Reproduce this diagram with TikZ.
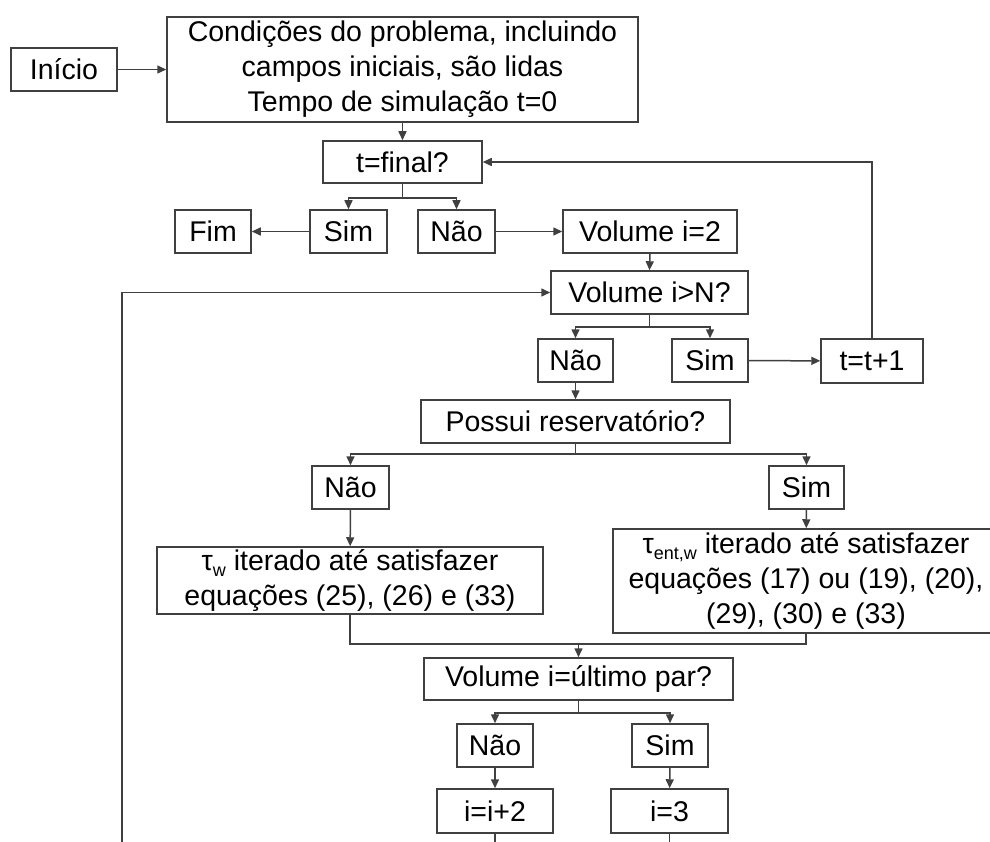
\documentclass[tikz,border=0pt]{standalone}
\usepackage{fontspec}
\setmainfont{Liberation Sans}
\usetikzlibrary{arrows.meta}
\newcommand{\subw}[1]{{\fontsize{18}{18}\selectfont\raisebox{-6pt}{#1}}}
\begin{document}
\begin{tikzpicture}[x=1pt,y=-1pt,
  bx/.style={draw=black!75, line width=1.5pt, inner sep=0pt, align=center,
    font=\fontsize{28.5}{35}\selectfont, text=black},
  conn/.style={draw=black!75, line width=1.5pt},
  arr/.style={conn, -{Triangle[length=9pt,width=8pt]}}]
\useasboundingbox (0,0) rectangle (990,842);
\clip (0,0) rectangle (990,842);
% boxes
\node[bx, minimum width=106pt, minimum height=43pt] (inicio) at (64,69.5) {Início};
\node[bx, minimum width=471pt, minimum height=105pt] (cond) at (402.5,69.5)
  {Condições do problema, incluindo\\campos iniciais, são lidas\\Tempo de simulação t=0};
\node[bx, minimum width=159pt, minimum height=42pt] (tfinal) at (402.5,162) {t=final?};
\node[bx, minimum width=77pt, minimum height=43pt] (sim1) at (348.5,231.5) {Sim};
\node[bx, minimum width=77pt, minimum height=43pt] (nao1) at (456.5,231.5) {Não};
\node[bx, minimum width=76pt, minimum height=43pt] (fim) at (213,231.5) {Fim};
\node[bx, minimum width=174pt, minimum height=43pt] (vol2) at (650,231.5) {Volume i=2};
\node[bx, minimum width=197pt, minimum height=43pt] (volN) at (649.5,292.5) {Volume i>N?};
\node[bx, minimum width=75pt, minimum height=43pt] (nao2) at (575.5,360.5) {Não};
\node[bx, minimum width=76pt, minimum height=43pt] (sim2) at (710,360.5) {Sim};
\node[bx, minimum width=102pt, minimum height=44pt] (tt1) at (872,361) {t=t+1};
\node[bx, minimum width=309pt, minimum height=43pt] (possui) at (575.5,421.5) {Possui reservatório?};
\node[bx, minimum width=77pt, minimum height=43pt] (nao3) at (350.5,487.5) {Não};
\node[bx, minimum width=75pt, minimum height=43pt] (sim3) at (806.5,487.5) {Sim};
\node[bx, minimum width=386pt, minimum height=67pt] (tauw) at (350,580.5)
  {τ\subw{w} iterado até satisfazer\\equações (25), (26) e (33)};
\node[bx, minimum width=386pt, minimum height=104pt] (tauent) at (806,581)
  {τ\subw{ent,w} iterado até satisfazer\\equações (17) ou (19), (20),\\(29), (30) e (33)};
\node[bx, minimum width=309pt, minimum height=42pt] (volult) at (578.5,679) {Volume i=último par?};
\node[bx, minimum width=76pt, minimum height=43pt] (nao4) at (495,745.5) {Não};
\node[bx, minimum width=76pt, minimum height=43pt] (sim4) at (670,745.5) {Sim};
\node[bx, minimum width=116pt, minimum height=44pt] (ii2) at (495,811) {i=i+2};
\node[bx, minimum width=117pt, minimum height=44pt] (i3) at (669.5,811) {i=3};
% branch points
\coordinate (b1) at (402.5,198);
\coordinate (b2) at (649.5,327);
\coordinate (b3) at (575.5,454);
\coordinate (m1) at (578.5,644);
\coordinate (b4) at (578.5,713);
\coordinate (e1) at (495,845);
\coordinate (e2) at (669.5,845);
\coordinate (lb) at (122,845);
% connectors
\draw[arr] (inicio) -- (cond);
\draw[arr] (cond) -- (tfinal);
\draw[conn] (tfinal) -- (b1);
\draw[arr] (b1) -| (sim1);
\draw[arr] (b1) -| (nao1);
\draw[arr] (sim1) -- (fim);
\draw[arr] (nao1) -- (vol2);
\draw[arr] (vol2.south) -- (volN.north);
\draw[conn] (volN) -- (b2);
\draw[arr] (b2) -| (nao2);
\draw[arr] (b2) -| (sim2);
\draw[arr] (sim2) -- (tt1);
\draw[arr] (tt1.north) |- (tfinal.east);
\draw[arr] (nao2) -- (possui);
\draw[conn] (possui) -- (b3);
\draw[arr] (b3) -| (nao3);
\draw[arr] (b3) -| (sim3);
\draw[arr] (nao3) -- (tauw);
\draw[arr] (sim3) -- (tauent);
\draw[conn] (tauw.south) |- (m1);
\draw[conn] (tauent.south) |- (m1);
\draw[arr] (m1) -- (volult.north);
\draw[conn] (volult.south) -- (b4);
\draw[arr] (b4) -| (nao4);
\draw[arr] (b4) -| (sim4);
\draw[arr] (nao4) -- (ii2);
\draw[arr] (sim4) -- (i3);
\draw[conn] (ii2) -- (e1);
\draw[conn] (i3) -- (e2);
\draw[arr] (lb) |- (volN.west);
\end{tikzpicture}
\end{document}
